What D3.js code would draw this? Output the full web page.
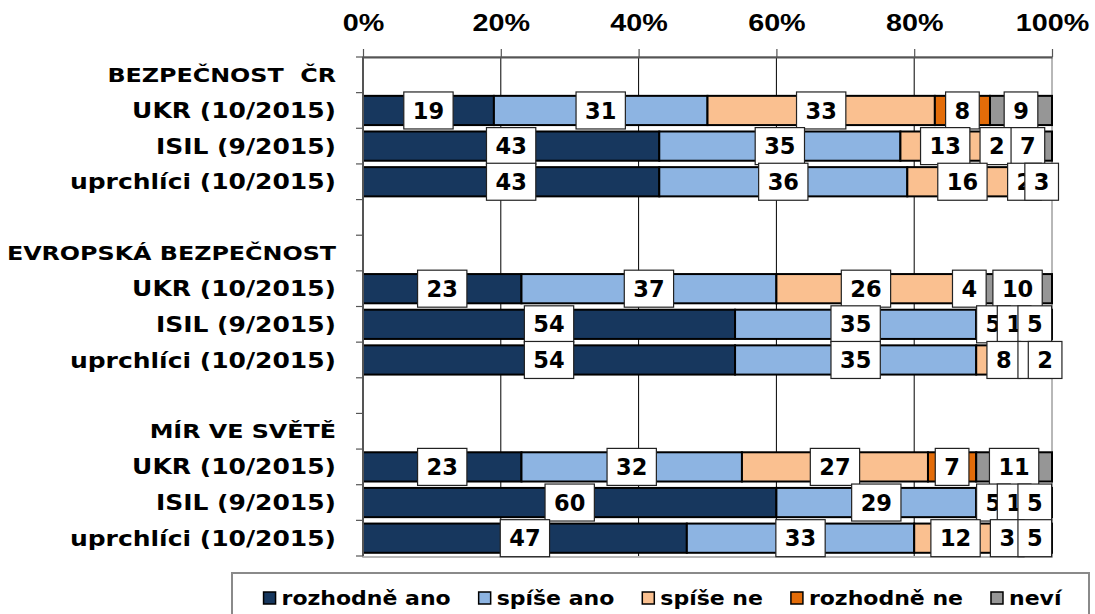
<!DOCTYPE html>
<html>
<head>
<meta charset="utf-8">
<script src="https://cdn.jsdelivr.net/npm/d3@7"></script>
<style>
  body { margin: 0; background: #fff; }
  svg { display: block; font-family: "DejaVu Sans", Verdana, sans-serif; font-weight: bold; }
  text { white-space: pre; }
</style>
</head>
<body>
<svg id="chart" width="1095" height="614"></svg>
<script>
// categories
var groups = ["BEZPEČNOST  ČR", "EVROPSKÁ BEZPEČNOST", "MÍR VE SVĚTĚ"];
var surveys = ["UKR (10/2015)", "ISIL (9/2015)", "uprchlíci (10/2015)"];
var seriesNames = ["rozhodně ano", "spíše ano", "spíše ne", "rozhodně ne", "neví"];
var seriesColors = ["#17375E", "#8DB4E2", "#FAC090", "#E36C09", "#969696"];
var xTicks = [0, 20, 40, 60, 80, 100];

// values, rows in order: group x survey
var rozhodneAno = [19, 43, 43, 23, 54, 54, 23, 60, 47];
var spiseAno    = [31, 35, 36, 37, 35, 35, 32, 29, 33];
var spiseNe     = [33, 13, 16, 26,  5,  8, 27,  5, 12];
var rozhodneNe  = [ 8,  2,  2,  4,  1,  1,  7,  1,  3];
var nevi        = [ 9,  7,  3, 10,  5,  2, 11,  5,  5];
var values = [rozhodneAno, spiseAno, spiseNe, rozhodneNe, nevi];

// build the row list: header, 3 surveys, blank spacer between groups
var rows = [];
var k = 0;
groups.forEach(function(g, gi){
  rows.push({id: "h" + gi, label: g, bar: -1});
  surveys.forEach(function(s, si){
    rows.push({id: "r" + gi + "_" + si, label: s, bar: k++});
  });
  if(gi < groups.length - 1) rows.push({id: "b" + gi, label: "", bar: -1});
});

var svg = d3.select("#chart");
var pLeft = 363, pRight = 1052, pTop = 57, pBottom = 556;

var x = d3.scaleLinear().domain([0, 100]).range([pLeft, pRight]);
var y = d3.scaleBand().domain(rows.map(function(d){ return d.id; }))
  .range([pTop, pBottom]).paddingInner(0.18).paddingOuter(0.09);

// stacked segments
var segs = [];
rows.forEach(function(r){
  if(r.bar < 0) return;
  var acc = 0;
  values.forEach(function(v, si){
    segs.push({row: r.id, s: si, x0: acc, x1: acc + v[r.bar], v: v[r.bar]});
    acc += v[r.bar];
  });
});

// plot border
svg.append("rect").attr("x", pLeft).attr("y", pTop)
  .attr("width", pRight - pLeft).attr("height", pBottom - pTop + 1)
  .attr("fill", "none").attr("stroke", "#a0a0a0").attr("stroke-width", 1.5);

// gridlines
svg.append("g").selectAll("line").data(xTicks.filter(function(t){ return t > 0 && t < 100; }))
  .enter().append("line")
  .attr("x1", function(d){ return x(d); }).attr("x2", function(d){ return x(d); })
  .attr("y1", pTop).attr("y2", pBottom)
  .attr("stroke", "#000").attr("stroke-width", 1);

// bars
svg.append("g").selectAll("rect").data(segs).enter().append("rect")
  .attr("x", function(d){ return x(d.x0); })
  .attr("y", function(d){ return y(d.row); })
  .attr("width", function(d){ return x(d.x1) - x(d.x0); })
  .attr("height", y.bandwidth())
  .attr("fill", function(d){ return seriesColors[d.s]; })
  .attr("stroke", "#000").attr("stroke-width", 2);

// top axis
var xAxis = d3.axisTop(x).tickValues(xTicks).tickSize(8).tickSizeOuter(0)
  .tickFormat(function(d){ return d + "%"; });
var gx = svg.append("g").attr("transform", "translate(0," + pTop + ")").call(xAxis);
gx.select(".domain").attr("stroke", "#555").attr("stroke-width", 2);
gx.selectAll(".tick line").attr("stroke", "#555").attr("stroke-width", 1.2);
gx.selectAll(".tick text").remove();
gx.selectAll(".tick").append("text")
  .attr("transform", "translate(0,-34) scale(1.25,1)")
  .attr("text-anchor", "middle").attr("dy", "0.36em")
  .attr("font-size", 23).attr("fill", "#000")
  .text(function(d){ return d + "%"; });

// left axis with ticks on band boundaries
var boundaries = rows.map(function(r){ return y(r.id) - y.step() * y.paddingOuter(); });
boundaries.push(pBottom);
svg.append("line").attr("x1", pLeft).attr("x2", pLeft).attr("y1", pTop).attr("y2", pBottom)
  .attr("stroke", "#555").attr("stroke-width", 2);
svg.append("g").selectAll("line").data(boundaries).enter().append("line")
  .attr("x1", pLeft - 7).attr("x2", pLeft)
  .attr("y1", function(d){ return d; }).attr("y2", function(d){ return d; })
  .attr("stroke", "#555").attr("stroke-width", 1.2);

// category labels
svg.append("g").selectAll("text").data(rows.filter(function(r){ return r.label; }))
  .enter().append("text")
  .attr("transform", function(d){
    return "translate(336," + (y(d.id) + y.bandwidth() / 2) + ") scale(1.19,1)";
  })
  .attr("text-anchor", "end").attr("dy", "0.36em")
  .attr("font-size", function(d){ return d.bar < 0 ? 20 : 21; }).attr("fill", "#000")
  .text(function(d){ return d.label; });

// data labels, series by series like the original
var lab = svg.append("g").selectAll("g").data(segs).enter().append("g")
  .attr("transform", function(d){
    return "translate(" + x((d.x0 + d.x1) / 2) + "," + (y(d.row) + y.bandwidth() / 2) + ")";
  });
lab.append("text").attr("text-anchor", "middle").attr("dy", "0.36em")
  .attr("font-size", 22.5).attr("fill", "#000")
  .text(function(d){ return d.v; });
lab.each(function(){
  var g = d3.select(this);
  var w = g.select("text").node().getComputedTextLength() + 18;
  g.insert("rect", "text").attr("x", -w / 2).attr("y", -18.5)
    .attr("width", w).attr("height", 37)
    .attr("fill", "#fff").attr("stroke", "#222").attr("stroke-width", 1.2);
});

// legend, items centred in the box
var legend = svg.append("g");
var boxX = 232, boxW = 857, ly = 598, sx = 1.1, gap = 28;
legend.append("rect").attr("x", boxX).attr("y", 573).attr("width", boxW).attr("height", 60)
  .attr("fill", "#fff").attr("stroke", "#8a8a8a").attr("stroke-width", 2);
var items = seriesNames.map(function(name, i){
  var g = legend.append("g");
  g.append("rect").attr("x", 0).attr("y", ly - 6).attr("width", 12).attr("height", 12)
    .attr("fill", seriesColors[i]).attr("stroke", "#000").attr("stroke-width", 1.5);
  var t = g.append("text")
    .attr("transform", "translate(18," + ly + ") scale(" + sx + ",1)")
    .attr("dy", "0.36em").attr("font-size", 20).attr("fill", "#000").text(name);
  return {g: g, w: 18 + t.node().getComputedTextLength() * sx};
});
var total = d3.sum(items, function(d){ return d.w; }) + gap * (items.length - 1);
var lx = boxX + boxW / 2 - total / 2 + 2;
items.forEach(function(it){
  it.g.attr("transform", "translate(" + lx + ",0)");
  lx += it.w + gap;
});
</script>
</body>
</html>
